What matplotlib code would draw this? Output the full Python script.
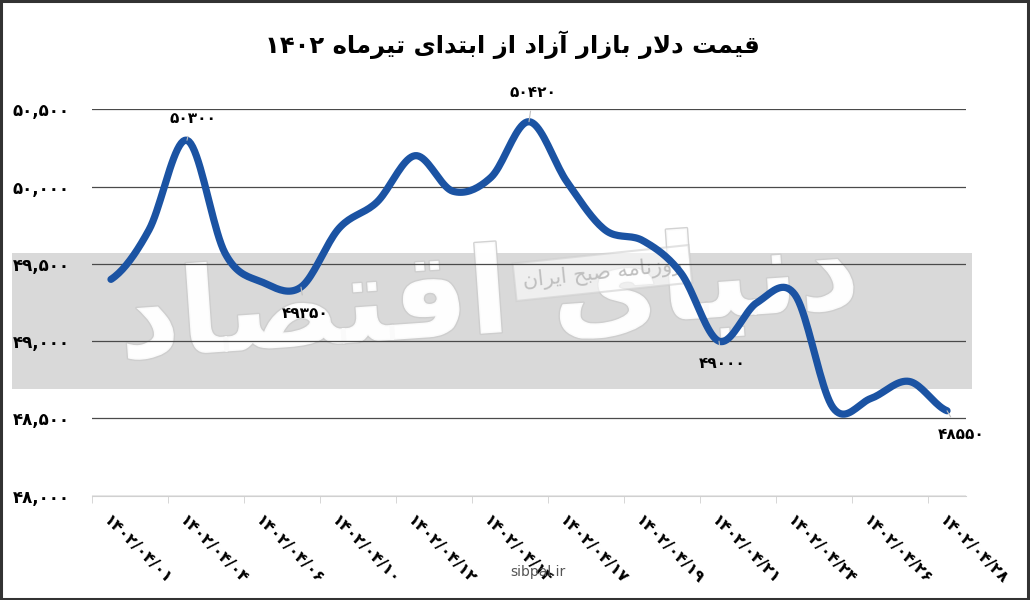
import re
import numpy as np
import matplotlib.pyplot as plt
import matplotlib.patheffects as pe
from matplotlib.patches import Rectangle

# Daily free-market dollar price, Tir 1402 (working days only)
dates = ['1402/04/01', '1402/04/03', '1402/04/04', '1402/04/05', '1402/04/06',
         '1402/04/07', '1402/04/10', '1402/04/11', '1402/04/12', '1402/04/13',
         '1402/04/14', '1402/04/15', '1402/04/17', '1402/04/18', '1402/04/19',
         '1402/04/20', '1402/04/21', '1402/04/22', '1402/04/24', '1402/04/25',
         '1402/04/26', '1402/04/27', '1402/04/28']
prices = [49400, 49720, 50300, 49570, 49380, 49350, 49730, 49900, 50200, 49970,
          50060, 50420, 50030, 49720, 49650, 49440, 49000, 49250, 49300, 48570,
          48630, 48740, 48550]
labelled = [2, 5, 11, 16, 22]   # points that carry a value label
yticks = [48000, 48500, 49000, 49500, 50000, 50500]

title = 'قیمت دلار بازار آزاد از ابتدای تیرماه 1402'
watermark = 'دنیای اقتصاد'
paper = 'روزنامه صبح ایران'

# matplotlib does no arabic shaping, so pick the presentation forms by hand
FORMS = {
    'ا': ('\ufe8d', '\ufe8e', None, None),
    'آ': ('\ufe81', '\ufe82', None, None),
    'ب': ('\ufe8f', '\ufe90', '\ufe91', '\ufe92'),
    'ت': ('\ufe95', '\ufe96', '\ufe97', '\ufe98'),
    'ح': ('\ufea1', '\ufea2', '\ufea3', '\ufea4'),
    'د': ('\ufea9', '\ufeaa', None, None),
    'ر': ('\ufead', '\ufeae', None, None),
    'ز': ('\ufeaf', '\ufeb0', None, None),
    'ص': ('\ufeb9', '\ufeba', '\ufebb', '\ufebc'),
    'ق': ('\ufed5', '\ufed6', '\ufed7', '\ufed8'),
    'ل': ('\ufedd', '\ufede', '\ufedf', '\ufee0'),
    'م': ('\ufee1', '\ufee2', '\ufee3', '\ufee4'),
    'ن': ('\ufee5', '\ufee6', '\ufee7', '\ufee8'),
    'ه': ('\ufee9', '\ufeea', '\ufeeb', '\ufeec'),
    'و': ('\ufeed', '\ufeee', None, None),
    'ی': ('\ufeef', '\ufef0', '\ufef3', '\ufef4'),
}
FA_DIGITS = str.maketrans('0123456789', '۰۱۲۳۴۵۶۷۸۹')


def fa(s):
    return str(s).translate(FA_DIGITS)


def shape(text):
    out = []
    i = 0
    while i < len(text):
        c = text[i]
        if c not in FORMS:
            out.append(c)
            i += 1
            continue
        prev = text[i - 1] if i > 0 else ''
        join_prev = prev in FORMS and FORMS[prev][2] is not None
        if c == 'ل' and i + 1 < len(text) and text[i + 1] == 'ا':
            out.append('\ufefc' if join_prev else '\ufefb')
            i += 2
            continue
        nxt = text[i + 1] if i + 1 < len(text) else ''
        join_next = FORMS[c][2] is not None and nxt in FORMS
        iso, fin, ini, med = FORMS[c]
        if join_prev and join_next:
            out.append(med)
        elif join_prev:
            out.append(fin)
        elif join_next:
            out.append(ini)
        else:
            out.append(iso)
        i += 1
    vis = ''.join(out)[::-1]
    # digit runs stay left to right
    vis = re.sub(r'[0-9]+', lambda m: m.group(0)[::-1], vis)
    return fa(vis)


def smooth(y, steps=20):
    # Catmull-Rom curve through the points, like a smoothed excel line
    p = np.concatenate([[y[0]], y, [y[-1]]])
    xs, ys = [], []
    for i in range(1, len(p) - 2):
        t = np.linspace(0, 1, steps, endpoint=False)
        p0, p1, p2, p3 = p[i - 1], p[i], p[i + 1], p[i + 2]
        yy = 0.5 * (2 * p1 + (-p0 + p2) * t + (2 * p0 - 5 * p1 + 4 * p2 - p3) * t ** 2
                    + (-p0 + 3 * p1 - 3 * p2 + p3) * t ** 3)
        xs.append(i - 1 + t)
        ys.append(yy)
    xs.append([len(y) - 1])
    ys.append([y[-1]])
    return np.concatenate(xs), np.concatenate(ys)


plt.rcParams['font.family'] = 'DejaVu Sans'

fig = plt.figure(figsize=(10.3, 6), dpi=100)
ax = fig.add_axes([0.0893, 0.1737, 0.8486, 0.6441])
ax.set_facecolor('none')

# grey band and watermark behind the chart
fig.patches.append(Rectangle((12 / 1030, 1 - 389 / 600), 960 / 1030, 136 / 600,
                             transform=fig.transFigure, facecolor='#d9d9d9',
                             edgecolor='none', zorder=-2))
fig.text(0.475, 0.50, shape(watermark), fontsize=86, fontweight='bold', color='white',
         ha='center', va='center', rotation=4, zorder=-1, alpha=0.9,
         path_effects=[pe.withStroke(linewidth=2, foreground='#cdcdcd')])
fig.text(0.585, 0.545, shape(paper), fontsize=15, color='#bfbfbf', ha='center',
         va='center', rotation=6, zorder=-1,
         bbox=dict(boxstyle='square,pad=0.4', facecolor='white', alpha=0.6,
                   edgecolor='#cfcfcf', lw=1.5))
fig.text(0.522, 0.046, 'sibpal.ir', fontsize=10, color='#555555', ha='center',
         va='center')

x = np.arange(len(prices))
sx, sy = smooth(np.array(prices, dtype=float))
ax.plot(sx, sy, color='#1b53a3', lw=5.2, solid_capstyle='round', zorder=3)

offsets = {2: (4, 16), 5: (3, -19), 11: (3, 21), 16: (2, -16), 22: (10, -17)}
for i in labelled:
    dx, dy = offsets[i]
    ax.annotate(fa(prices[i]), (x[i], prices[i]), xytext=(dx, dy),
                textcoords='offset points', ha='center', va='center',
                fontsize=11, fontweight='bold',
                arrowprops=dict(arrowstyle='-', color='#bfbfbf', lw=0.8,
                                shrinkA=6, shrinkB=0))

ax.set_xlim(-0.5, len(prices) - 0.5)
ax.set_ylim(48000, 50500)
ax.set_yticks(yticks)
ax.set_yticklabels([fa(f'{v:,}') for v in yticks], fontsize=12, fontweight='bold')
ax.set_xticks(x[::2])
ax.set_xticklabels([fa(d) for d in dates[::2]], rotation=-45, ha='left', va='top',
                   rotation_mode='anchor', fontsize=11.5, fontweight='bold')
ax.set_xticks(np.arange(-0.5, len(prices) - 1, 2), minor=True)
ax.tick_params(axis='x', which='major', length=0, pad=12)
ax.tick_params(axis='x', which='minor', length=5, color='#d0d0d0')
ax.tick_params(axis='y', length=0, pad=16)
ax.grid(axis='y', color='#4a4a4a', lw=0.9)
for s in ['top', 'right', 'left']:
    ax.spines[s].set_visible(False)
ax.spines['bottom'].set_color('#d0d0d0')

fig.text(0.497, 0.925, shape(title), fontsize=17.5, fontweight='bold', ha='center',
         va='center')

fig.patches.append(Rectangle((0.001, 0.002), 0.997, 0.996, transform=fig.transFigure,
                             fill=False, edgecolor='#333333', lw=2.2))

fig.savefig('out.png', dpi=100)
